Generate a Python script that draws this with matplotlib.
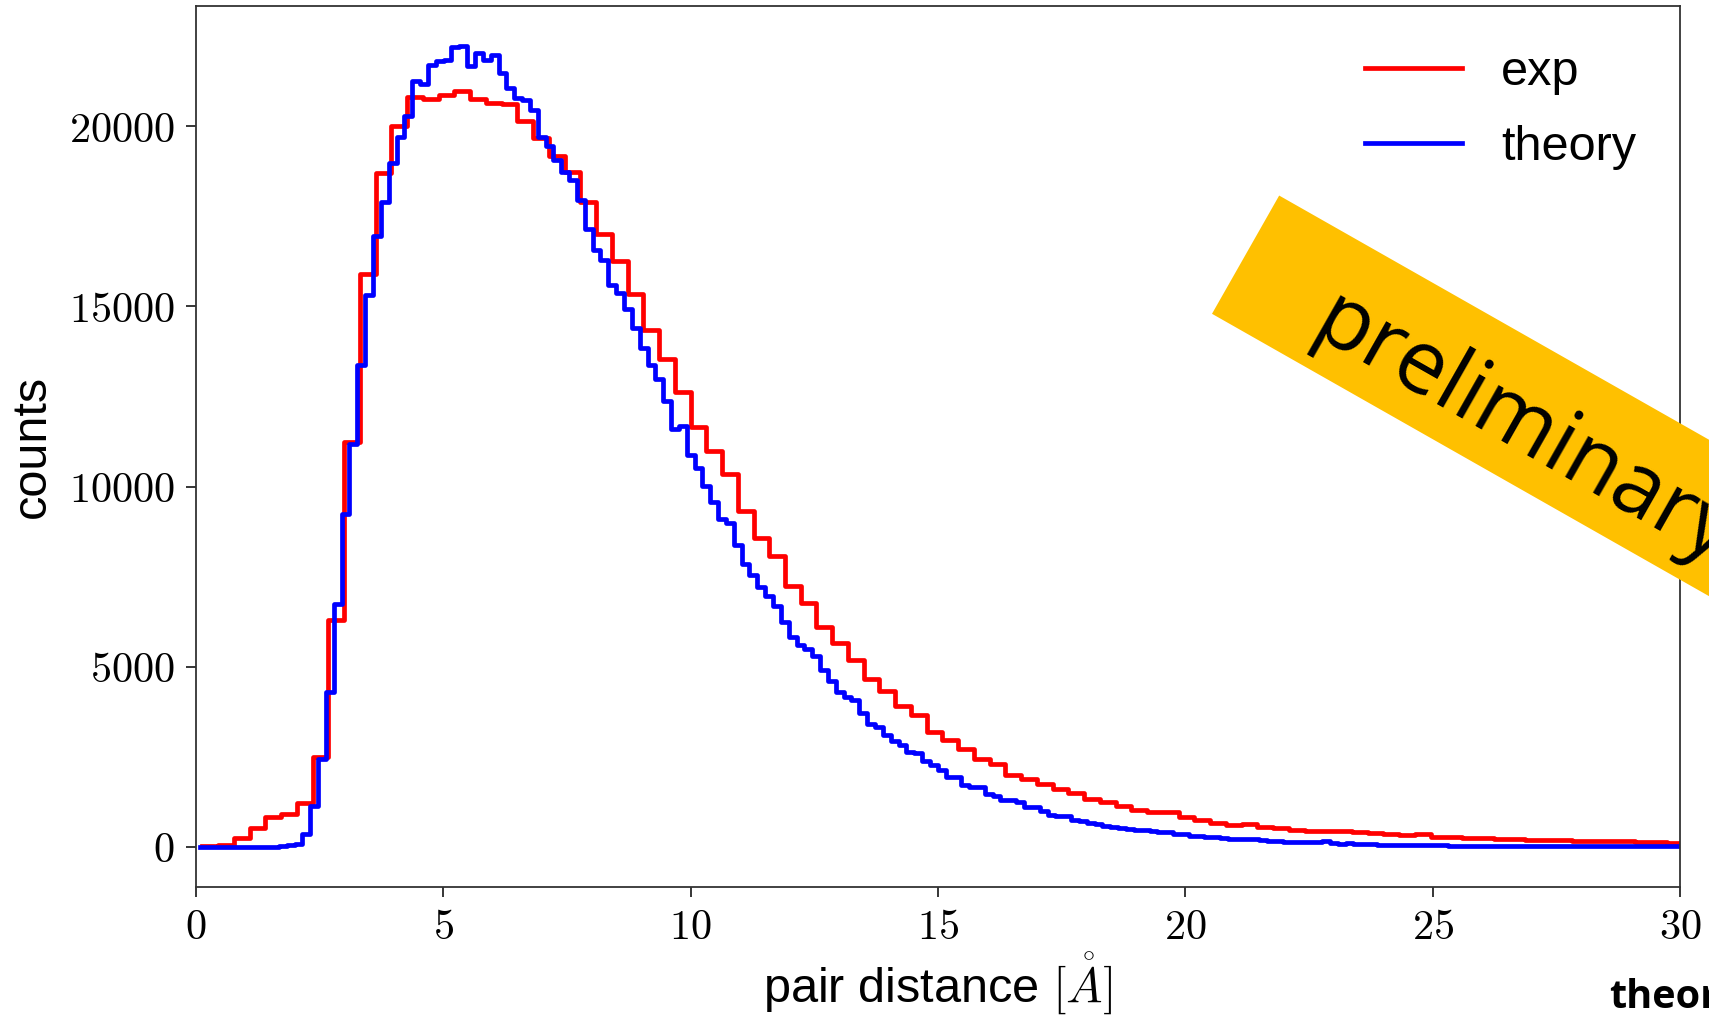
import numpy as np
import matplotlib
matplotlib.use("Agg")
import matplotlib.pyplot as plt
from matplotlib.ticker import FuncFormatter
from matplotlib.patches import Rectangle
from matplotlib.transforms import Affine2D

plt.rcParams['font.family'] = ['Liberation Sans', 'DejaVu Sans']
plt.rcParams['mathtext.fontset'] = 'cm'

# histogram bins (pair distance in Angstrom)
exp_start, exp_width = 0.13, 0.3183
theory_start, theory_width = 0.09, 0.15856

exp_counts = [
    10, 50, 230, 520, 830, 900, 1200, 2500, 6300, 11250,
    15900, 18700, 20000, 20820, 20750, 20870, 20980, 20750, 20650, 20630,
    20140, 19680, 19180, 18730, 17900, 17020, 16250, 15350, 14350, 13550,
    12620, 11640, 11000, 10340, 9330, 8570, 8070, 7230, 6760, 6090,
    5660, 5170, 4660, 4310, 3900, 3660, 3190, 2960, 2710, 2430,
    2290, 2000, 1880, 1740, 1600, 1480, 1320, 1230, 1140, 1020,
    970, 950, 830, 750, 660, 610, 640, 560, 510, 470,
    445, 445, 430, 400, 370, 360, 330, 340, 270, 265,
    240, 230, 220, 200, 180, 180, 175, 170, 150, 155,
    145, 130, 120, 105,
]

theory_counts = [
    0, 0, 0, 0, 0, 0, 0, 0, 0, 0,
    15, 50, 80, 350, 1140, 2435, 4306, 6741, 9241, 11185,
    13361, 15306, 16954, 17898, 18981, 19704, 20278, 21259, 21185, 21694,
    21815, 21852, 22204, 22231, 21676, 22046, 21852, 21972, 21491, 21074,
    20787, 20722, 20444, 19704, 19444, 19074, 18731, 18500, 17944, 17157,
    16574, 16296, 15583, 15370, 14935, 14398, 13843, 13380, 12991, 12380,
    11602, 11667, 10889, 10509, 10009, 9565, 9102, 8981, 8389, 7852,
    7556, 7222, 6972, 6694, 6231, 5815, 5611, 5491, 5287, 4908,
    4611, 4306, 4148, 4074, 3713, 3407, 3315, 3102, 2944, 2833,
    2639, 2593, 2370, 2269, 2130, 1926, 1930, 1713, 1667, 1660,
    1463, 1400, 1300, 1290, 1231, 1093, 1090, 1000, 880, 860,
    850, 740, 720, 670, 640, 580, 560, 520, 500, 470,
    460, 430, 410, 400, 360, 350, 310, 290, 270, 260,
    230, 225, 215, 210, 220, 190, 160, 150, 130, 125,
    130, 135, 125, 145, 115, 80, 95, 75, 70, 65,
    55, 50, 50, 45, 48, 45, 42, 40, 35, 15,
    15, 12, 18, 15, 10, 20, 22, 18, 25, 20,
    18, 25, 20, 15, 20, 18, 15, 20, 15, 12,
    15, 10, 12, 8, 10, 12, 8, 10, 8,
]

xticks = [0, 5, 10, 15, 20, 25, 30]
yticks = [0, 5000, 10000, 15000, 20000]

W, H = 1709, 1015
fig = plt.figure(figsize=(W / 100, H / 100), dpi=100)
ax = fig.add_axes([196 / W, 128.3 / H, 1484 / W, 880.7 / H])


def step_line(start, width, counts, **kw):
    edges = start + width * np.arange(len(counts) + 1)
    vals = np.append(counts, counts[-1])
    return ax.plot(edges, vals, drawstyle='steps-post', **kw)


step_line(exp_start, exp_width, exp_counts, color='red', lw=3.4, label='exp')
step_line(theory_start, theory_width, theory_counts, color='blue', lw=3.4, label='theory')

ax.set_xlim(0, 30)
ax.set_xticks(xticks)
ax.set_yticks(yticks)
fmt = FuncFormatter(lambda v, p: f'${v:.0f}$')
ax.xaxis.set_major_formatter(fmt)
ax.yaxis.set_major_formatter(fmt)
ax.tick_params(labelsize=30.5, length=7.2, width=1.1, pad=8, direction='out')
for s in ax.spines.values():
    s.set_color('#333333')
    s.set_linewidth(1.3)

ax.set_xlabel(r'pair distance $[\mathring{A}]$', fontsize=35)
ax.set_ylabel('counts', fontsize=35)
ax.xaxis.set_label_coords(0.5, -0.073)
ax.yaxis.set_label_coords(-0.095, 0.5)

ax.legend(loc='upper right', frameon=False, fontsize=35, labelspacing=0.62)

# "preliminary" banner on top of the plot
ang = -29.6
tr = Affine2D().rotate_deg(ang).translate(1212, H - 313.8)
banner = Rectangle((0, 0), 900, 136, transform=tr, facecolor='#FFC000',
                   edgecolor='none', zorder=5)
fig.add_artist(banner)
# text anchor: along the band and a bit below its centre line
tx, ty = tr.transform((95, 52))
fig.text(tx / W, ty / H, 'preliminary', rotation=ang, rotation_mode='anchor',
         ha='left', va='center', fontsize=63, family='Open Sans', zorder=6)

fig.text(1609 / W, 7 / H, 'theory', ha='left', va='baseline', fontsize=28.5,
         family='Open Sans', weight='bold')

fig.savefig('out.png', dpi=100)
